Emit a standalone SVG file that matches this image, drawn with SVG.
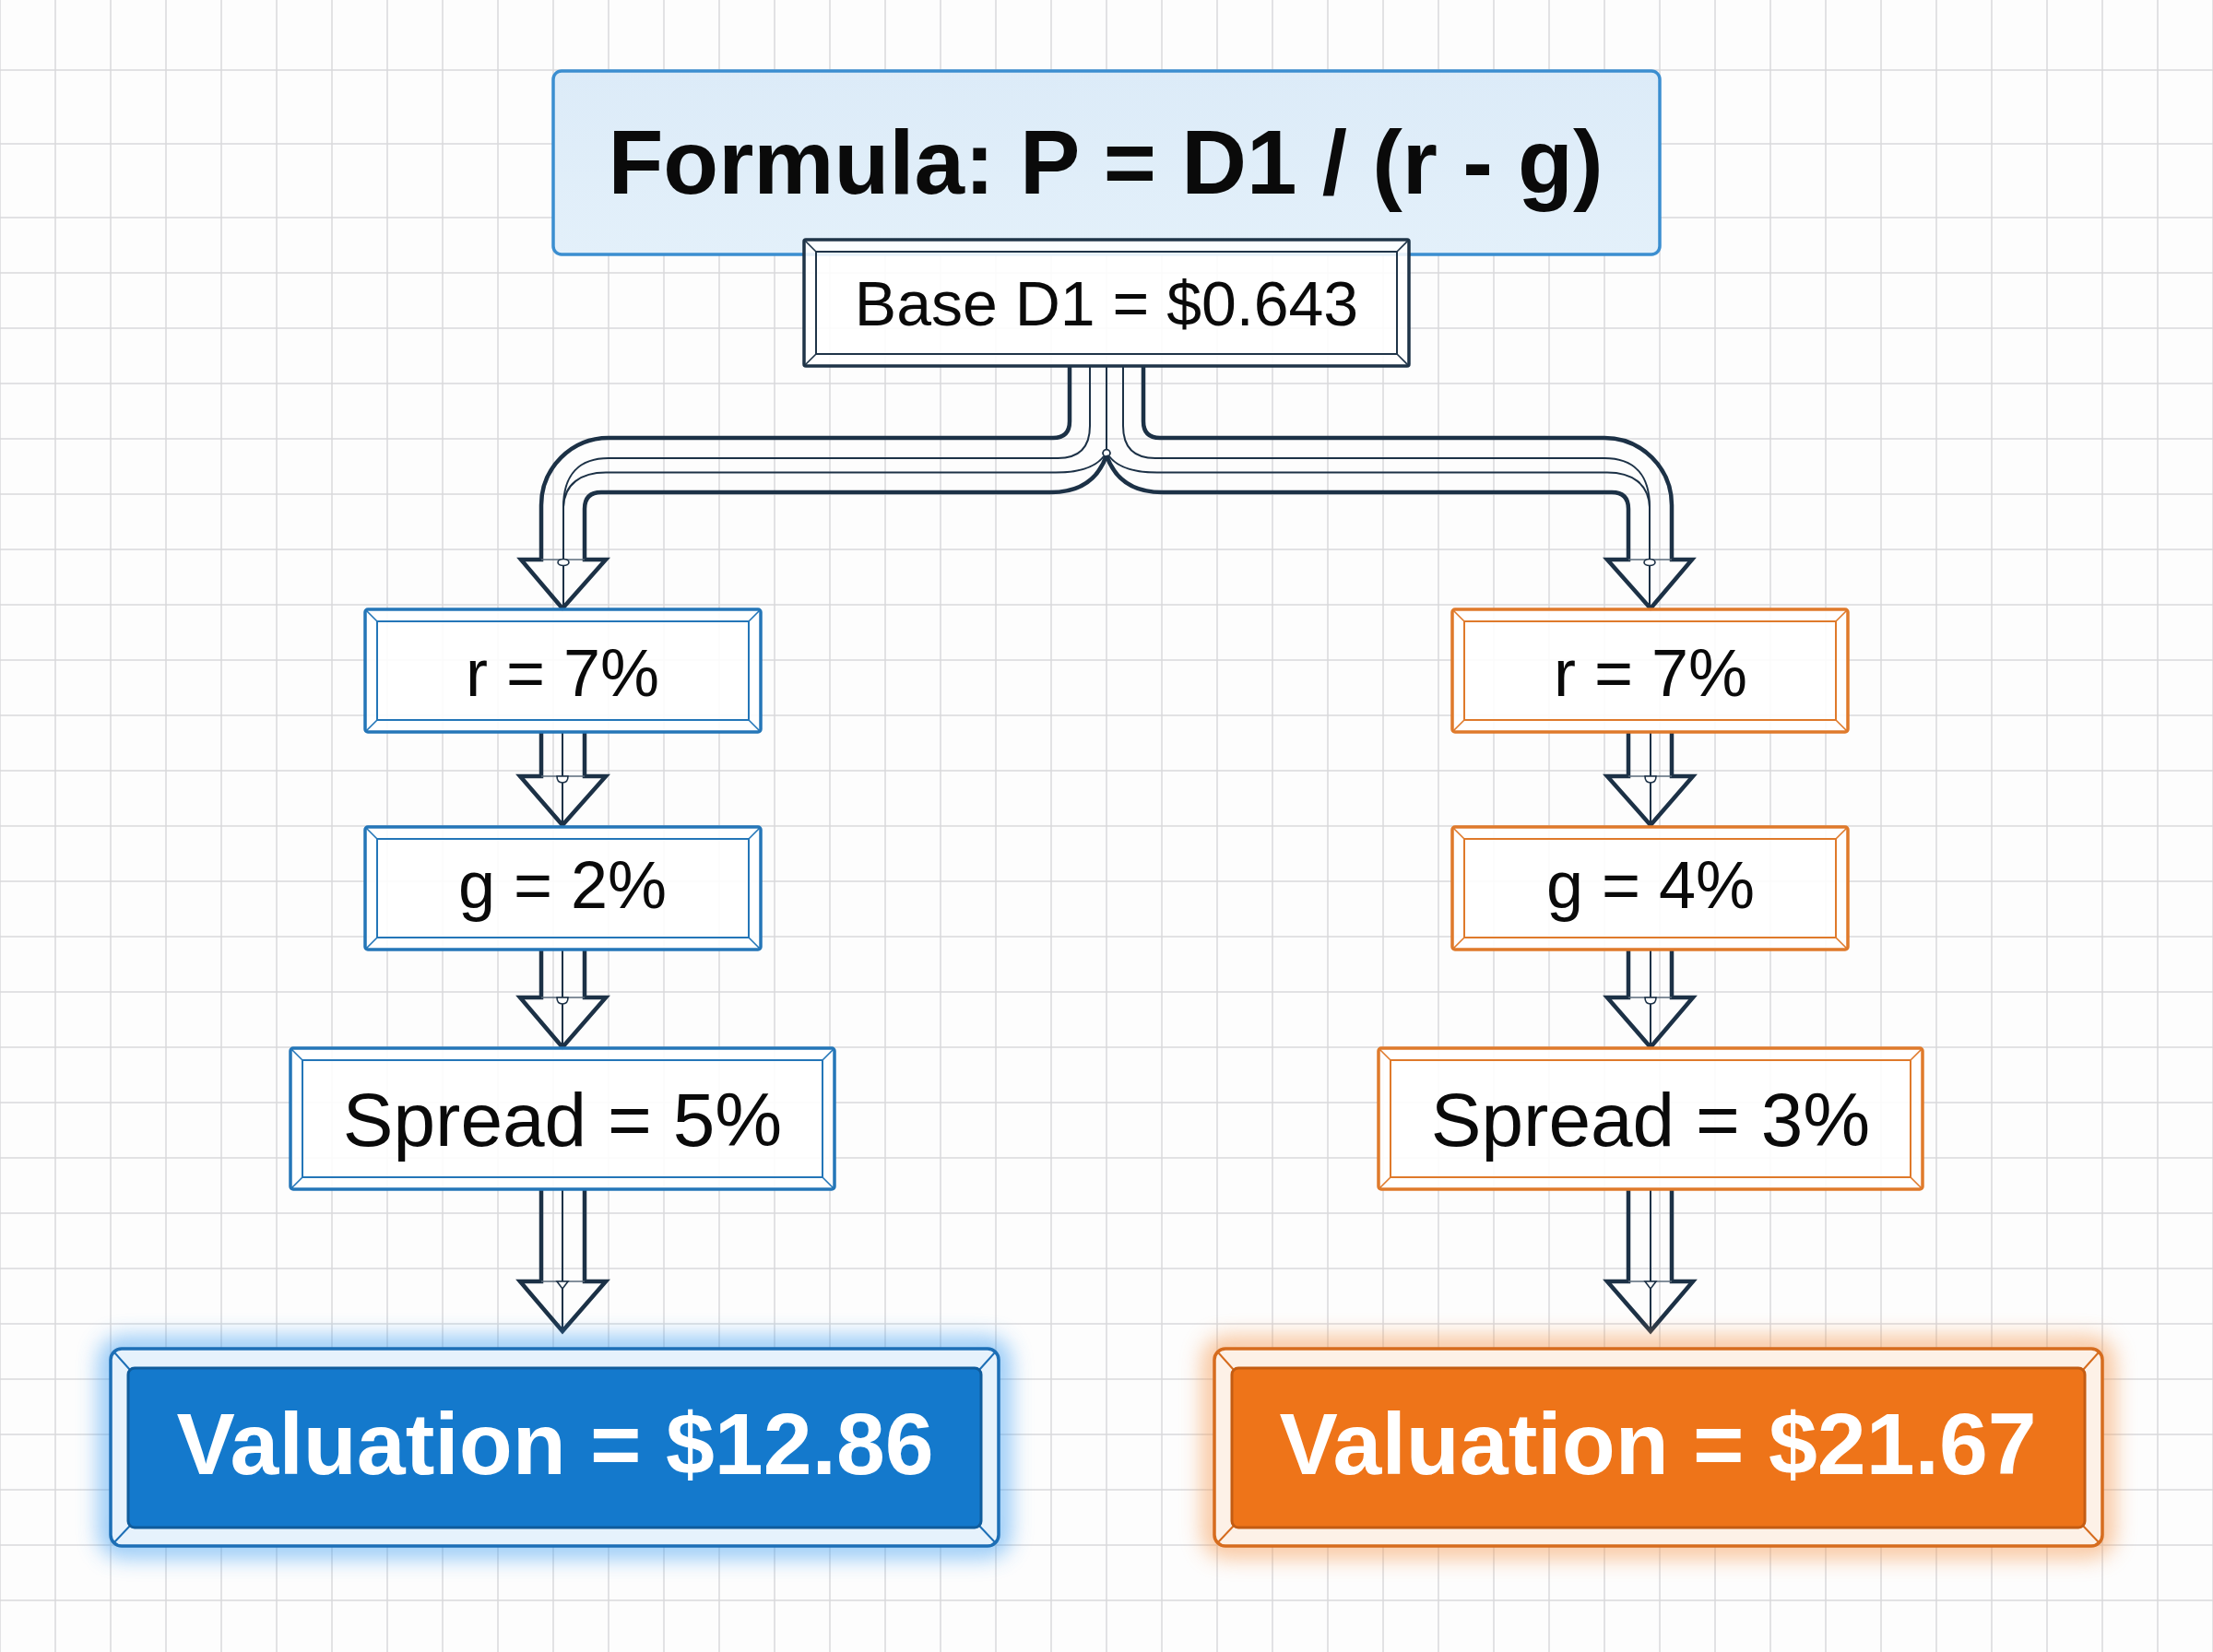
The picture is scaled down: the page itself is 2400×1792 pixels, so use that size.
<svg xmlns="http://www.w3.org/2000/svg" xmlns:xlink="http://www.w3.org/1999/xlink" width="2400" height="1792" viewBox="0 0 2400 1792">
<style>
.grid{stroke:#d9d9db;stroke-width:1.5;fill:none}
.bl{stroke:#2476b8}
.or{stroke:#df7a2b}
.nv{stroke:#1f3448}
.outer{fill:#ffffff;fill-opacity:0.88;stroke-width:3.5}
.inner{fill:none;stroke-width:2}
.bev{fill:none;stroke-width:1.6}
.lbl{font-family:"Liberation Sans",Arial,sans-serif;fill:#0a0a0a;text-anchor:middle}
.big{font-family:"Liberation Sans",Arial,sans-serif;font-weight:bold;text-anchor:middle}
.thk{fill:none;stroke:#1c3146;stroke-width:4.5;stroke-linejoin:miter;stroke-linecap:butt}
.thn{fill:none;stroke:#1c3146;stroke-width:2}
.base{fill:none;stroke:#5a6a7a;stroke-width:1.4}
.mk{fill:#ffffff;stroke:#1c3146;stroke-width:1.6}
</style>
<defs>
<filter id="glow" x="-15%" y="-40%" width="130%" height="180%">
<feGaussianBlur stdDeviation="12"/>
</filter>
<linearGradient id="fgrad" x1="0" y1="0" x2="0" y2="1">
<stop offset="0" stop-color="#dcebf8"/>
<stop offset="1" stop-color="#e3f0fa"/>
</linearGradient>
</defs>
<rect x="0" y="0" width="2400" height="1792" fill="#fdfdfd"/>
<path class="grid" d="M0 0V1792M60 0V1792M120 0V1792M180 0V1792M240 0V1792M300 0V1792M360 0V1792M420 0V1792M480 0V1792M540 0V1792M600 0V1792M660 0V1792M720 0V1792M780 0V1792M840 0V1792M900 0V1792M960 0V1792M1020 0V1792M1080 0V1792M1140 0V1792M1200 0V1792M1260 0V1792M1320 0V1792M1380 0V1792M1440 0V1792M1500 0V1792M1560 0V1792M1620 0V1792M1680 0V1792M1740 0V1792M1800 0V1792M1860 0V1792M1920 0V1792M1980 0V1792M2040 0V1792M2100 0V1792M2160 0V1792M2220 0V1792M2280 0V1792M2340 0V1792M2400 0V1792M0 76H2400M0 156H2400M0 236H2400M0 296H2400M0 356H2400M0 416H2400M0 476H2400M0 536H2400M0 596H2400M0 656H2400M0 716H2400M0 776H2400M0 836H2400M0 896H2400M0 956H2400M0 1016H2400M0 1076H2400M0 1136H2400M0 1196H2400M0 1256H2400M0 1316H2400M0 1376H2400M0 1436H2400M0 1496H2400M0 1556H2400M0 1616H2400M0 1676H2400M0 1736H2400"/>

<g id="connectors">
<g id="conn-left">
<path class="thn" d="M1200 396V488"/>
<circle class="mk" cx="1200" cy="491.5" r="3.8"/>
<path class="thk" d="M1160 396V457Q1160 475 1142 475H660A73 73 0 0 0 587 548V607H565L610 660L657 607H634V552Q634 534 652 534H1140Q1186 534 1200 494"/>
<path class="thn" d="M1182 396V462Q1182 497 1147 497H660C628 497 611 515 611 550V660"/>
<path class="thn" d="M1197 495C1188 507 1172 512.5 1145 512.5H657C630 512.5 612 525 611 550"/>
<path class="base" d="M587 607H634"/>
<ellipse class="mk" cx="611" cy="610" rx="6" ry="3.5"/>
<path class="thk" d="M587 794V842H564L610 895L657 842H634V794"/>
<path class="base" d="M587 842H634"/>
<path class="thn" d="M610 794V895"/>
<path class="mk" d="M604 842H616Q616 849 610 849Q604 849 604 842Z"/>
<path class="thk" d="M587 1030V1082H564L610 1136L657 1082H634V1030"/>
<path class="base" d="M587 1082H634"/>
<path class="thn" d="M610 1030V1136"/>
<path class="mk" d="M604 1082H616Q616 1089 610 1089Q604 1089 604 1082Z"/>
<path class="thk" d="M587 1290V1390H564L610 1444L657 1390H634V1290"/>
<path class="base" d="M587 1390H634"/>
<path class="thn" d="M610 1290V1444"/>
<path class="mk" d="M604 1390H616L610 1398Z"/>
</g>
<use xlink:href="#conn-left" href="#conn-left" transform="matrix(-1 0 0 1 2400 0)"/>
</g>

<g id="formula">
<rect x="600" y="77" width="1200" height="199" rx="9" fill="url(#fgrad)" stroke="#3b8ed0" stroke-width="3.5"/>
<text class="big" x="1199" y="210" font-size="98" fill="#0a0a0a">Formula: P = D1 / (r - g)</text>
</g>

<g id="base-d1">
<rect class="outer nv" x="872" y="260" width="656" height="137" rx="2"/>
<rect class="inner nv" x="885" y="273" width="630" height="111"/>
<path class="bev nv" d="M872 260L885 273M1528 260L1515 273M872 397L885 384M1528 397L1515 384"/>
<text class="lbl" x="1200" y="353" font-size="68">Base D1 = $0.643</text>
</g>

<g id="r-left">
<rect class="outer bl" x="396" y="661" width="429" height="133" rx="3"/>
<rect class="inner bl" x="409" y="674" width="403" height="107"/>
<path class="bev bl" d="M396 661L409 674M825 661L812 674M396 794L409 781M825 794L812 781"/>
<text class="lbl" x="610" y="755" font-size="72">r = 7%</text>
</g>
<g id="g-left">
<rect class="outer bl" x="396" y="897" width="429" height="133" rx="3"/>
<rect class="inner bl" x="409" y="910" width="403" height="107"/>
<path class="bev bl" d="M396 897L409 910M825 897L812 910M396 1030L409 1017M825 1030L812 1017"/>
<text class="lbl" x="610" y="985" font-size="72">g = 2%</text>
</g>
<g id="spread-left">
<rect class="outer bl" x="315" y="1137" width="590" height="153" rx="3"/>
<rect class="inner bl" x="328" y="1150" width="564" height="127"/>
<path class="bev bl" d="M315 1137L328 1150M905 1137L892 1150M315 1290L328 1277M905 1290L892 1277"/>
<text class="lbl" x="610" y="1243" font-size="82">Spread = 5%</text>
</g>

<g id="r-right">
<rect class="outer or" x="1575" y="661" width="429" height="133" rx="3"/>
<rect class="inner or" x="1588" y="674" width="403" height="107"/>
<path class="bev or" d="M1575 661L1588 674M2004 661L1991 674M1575 794L1588 781M2004 794L1991 781"/>
<text class="lbl" x="1790" y="755" font-size="72">r = 7%</text>
</g>
<g id="g-right">
<rect class="outer or" x="1575" y="897" width="429" height="133" rx="3"/>
<rect class="inner or" x="1588" y="910" width="403" height="107"/>
<path class="bev or" d="M1575 897L1588 910M2004 897L1991 910M1575 1030L1588 1017M2004 1030L1991 1017"/>
<text class="lbl" x="1790" y="985" font-size="72">g = 4%</text>
</g>
<g id="spread-right">
<rect class="outer or" x="1495" y="1137" width="590" height="153" rx="3"/>
<rect class="inner or" x="1508" y="1150" width="564" height="127"/>
<path class="bev or" d="M1495 1137L1508 1150M2085 1137L2072 1150M1495 1290L1508 1277M2085 1290L2072 1277"/>
<text class="lbl" x="1790" y="1243" font-size="82">Spread = 3%</text>
</g>

<g id="valuation-left">
<rect x="120" y="1463" width="963" height="214" rx="12" fill="none" stroke="#3a9cf2" stroke-width="24" opacity="0.6" filter="url(#glow)"/>
<rect x="120" y="1463" width="963" height="214" rx="12" fill="#e6f2fc" stroke="#1d6fb6" stroke-width="3.5"/>
<path fill="none" stroke="#1d6fb6" stroke-width="2" d="M124 1467L141 1486M1079 1467L1062 1486M124 1673L141 1655M1079 1673L1062 1655"/>
<rect x="139" y="1484" width="925" height="173" rx="7" fill="#1479cc" stroke="#0f5c9c" stroke-width="3"/>
<text class="big" x="602" y="1599" font-size="95" fill="#ffffff">Valuation = $12.86</text>
</g>

<g id="valuation-right">
<rect x="1317" y="1463" width="963" height="214" rx="12" fill="none" stroke="#f5944a" stroke-width="24" opacity="0.6" filter="url(#glow)"/>
<rect x="1317" y="1463" width="963" height="214" rx="12" fill="#fdf1e7" stroke="#d66c1e" stroke-width="3.5"/>
<path fill="none" stroke="#d66c1e" stroke-width="2" d="M1321 1467L1338 1486M2276 1467L2259 1486M1321 1673L1338 1655M2276 1673L2259 1655"/>
<rect x="1336" y="1484" width="925" height="173" rx="7" fill="#ee7419" stroke="#c45c12" stroke-width="3"/>
<text class="big" x="1798" y="1599" font-size="95" fill="#ffffff">Valuation = $21.67</text>
</g>
</svg>
